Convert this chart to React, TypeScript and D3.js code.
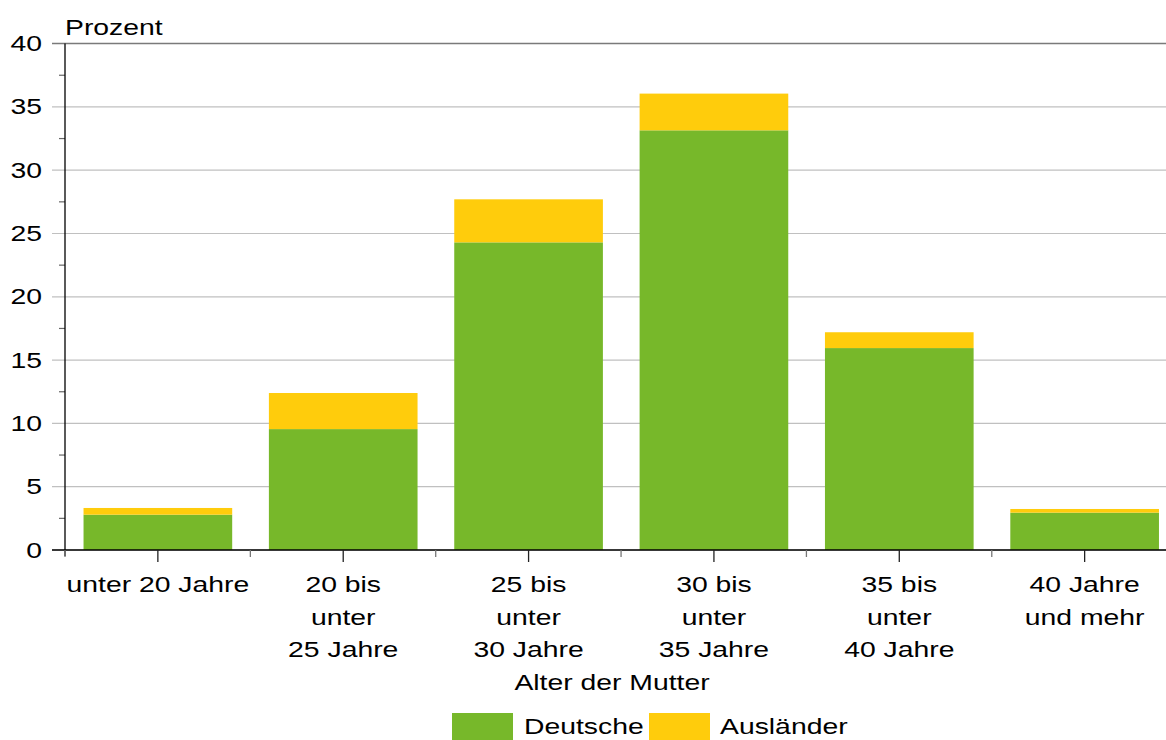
import * as d3 from "d3";

// data
const categories = ["u20", "20-25", "25-30", "30-35", "35-40", "40+"];
const categoryLabels = [
  ["unter 20 Jahre"],
  ["20 bis", "unter", "25 Jahre"],
  ["25 bis", "unter", "30 Jahre"],
  ["30 bis", "unter", "35 Jahre"],
  ["35 bis", "unter", "40 Jahre"],
  ["40 Jahre", "und mehr"],
];
const deutsche = [2.79, 9.55, 24.3, 33.15, 15.95, 2.95];
const auslaender = [0.53, 2.85, 3.4, 2.9, 1.25, 0.29];
const yTicks = [0, 5, 10, 15, 20, 25, 30, 35, 40];
const yMinor = [2.5, 7.5, 12.5, 17.5, 22.5, 27.5, 32.5, 37.5];
const seriesNames = ["Deutsche", "Ausländer"];

const GREEN = "#77B82A";
const YELLOW = "#FFCC0C";
const FONT = "'Liberation Sans', Arial, sans-serif";
const SX = 1.26; // the reference text is a bit wide

const width = 1166, height = 740;
const left = 65, right = 1177.5, top = 43.6, bottom = 550;

function Label({ x, y, anchor, children }: { x: number; y: number; anchor: string; children: any }) {
  return (
    <text
      transform={`translate(${x},${y}) scale(${SX},1)`}
      textAnchor={anchor}
      fontSize={22.5}
      fontFamily={FONT}
      fill="#000"
    >
      {children}
    </text>
  );
}

export default function App() {
  const x = d3.scaleBand<string>().domain(categories).range([left, right]).paddingInner(0.198).paddingOuter(0.1);
  const y = d3.scaleLinear().domain([0, 40]).range([bottom, top]);

  const rows = categories.map((c, i) => ({ key: c, Deutsche: deutsche[i], Ausländer: auslaender[i] }));
  const stacked = d3.stack<any>().keys(seriesNames)(rows);
  const colors = [GREEN, YELLOW];
  const step = x.step();

  return (
    <svg width={width} height={height} style={{ position: "absolute", left: 0, top: 0 }}>
      {/* gridlines */}
      {yTicks.map((t) => (
        <line key={"g" + t} x1={52} x2={right} y1={y(t)} y2={y(t)}
          stroke={t === 40 ? "#7a7a7a" : "#c0c0c0"} strokeWidth={t === 40 ? 1.5 : 1.2} />
      ))}
      {/* minor ticks */}
      {yMinor.map((t) => (
        <line key={"m" + t} x1={59} x2={left} y1={y(t)} y2={y(t)} stroke="#666" strokeWidth={1.2} />
      ))}
      {/* bars */}
      {stacked.map((s, si) => (
        <g key={s.key} fill={colors[si]}>
          {s.map((d, i) => (
            <rect key={i} x={x(categories[i])} width={x.bandwidth()} y={y(d[1])} height={y(d[0]) - y(d[1])} />
          ))}
        </g>
      ))}
      {/* axes */}
      <line x1={left} x2={left} y1={top} y2={556} stroke="#000" strokeWidth={1.3} />
      <line x1={52} x2={right} y1={bottom} y2={bottom} stroke="#000" strokeWidth={1.6} />
      {d3.range(categories.length + 1).map((k) => (
        <line key={"b" + k} x1={left + k * step} x2={left + k * step} y1={bottom} y2={557} stroke="#777" strokeWidth={1.3} />
      ))}
      {categories.map((c) => (
        <line key={"c" + c} x1={x(c)! + x.bandwidth() / 2} x2={x(c)! + x.bandwidth() / 2} y1={bottom} y2={562} stroke="#222" strokeWidth={1.3} />
      ))}
      {/* y labels */}
      {yTicks.map((t) => (
        <Label key={"l" + t} x={42} y={y(t) + 7.5} anchor="end">{t}</Label>
      ))}
      <Label x={65} y={35} anchor="start">Prozent</Label>
      {/* category labels */}
      {categories.map((c, i) =>
        categoryLabels[i].map((line, j) => (
          <Label key={c + j} x={x(c)! + x.bandwidth() / 2} y={592 + j * 32.5} anchor="middle">{line}</Label>
        ))
      )}
      <Label x={612} y={690} anchor="middle">Alter der Mutter</Label>
      {/* legend */}
      <rect x={452} y={713} width={61} height={27} fill={GREEN} />
      <Label x={524} y={733.5} anchor="start">{seriesNames[0]}</Label>
      <rect x={649} y={713} width={61} height={27} fill={YELLOW} />
      <Label x={720} y={733.5} anchor="start">{seriesNames[1]}</Label>
    </svg>
  );
}
